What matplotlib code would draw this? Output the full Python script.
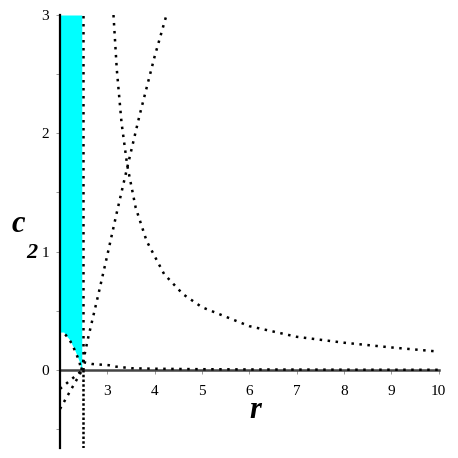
import matplotlib
matplotlib.use("Agg")
from matplotlib import pyplot as plt

# hyperbola-like curve, falling from top towards r = 10
r_fall = [3.13, 3.2, 3.3, 3.42, 3.6, 3.83, 4.2, 4.6, 5.0, 6.0, 7.0, 8.0, 9.0, 10.0]
c_fall = [3.0, 2.54, 2.09, 1.73, 1.37, 1.09, 0.81, 0.64, 0.53, 0.37, 0.28, 0.23, 0.19, 0.155]

# rising curve from near (2.45, 0) to the top
r_rise = [2.45, 2.6, 2.8, 3.0, 3.2, 3.42, 3.68, 4.0, 4.25]
c_rise = [0.0, 0.28, 0.62, 0.97, 1.33, 1.71, 2.15, 2.65, 3.0]

# small curve just above the r axis
r_small = [2.5, 2.68, 2.85, 3.03, 3.18, 3.52, 4.0, 5.0, 6.0, 8.0, 10.0]
c_small = [0.065, 0.05, 0.045, 0.04, 0.028, 0.014, 0.01, 0.006, 0.004, 0.002, 0.001]

# lower boundary of the shaded region
r_bound = [2.0, 2.08, 2.11, 2.195, 2.26, 2.32, 2.36, 2.41, 2.43, 2.46]
c_bound = [0.32, 0.32, 0.30, 0.26, 0.21, 0.16, 0.12, 0.07, 0.03, 0.0]

# two short lines below the axis
r_low1 = [2.0, 2.48]
c_low1 = [-0.16, 0.0]
r_low2 = [2.0, 2.47]
c_low2 = [-0.33, 0.0]

r_vert = 2.49

x_ticks = [3, 4, 5, 6, 7, 8, 9, 10]
y_ticks = [0, 1, 2, 3]
y_minor = [-0.5, 0.5, 1.5, 2.5]

serif = "Liberation Serif"

fig = plt.figure(figsize=(4.58, 4.58), dpi=100)
ax = fig.add_axes([60 / 458, 10 / 458, 378.6 / 458, 433 / 458])
ax.set_xlim(2, 10)
ax.set_ylim(-0.66, 3)

ax.fill_between(r_bound, c_bound, 3, color="#00FFFF", linewidth=0, zorder=1)

dot = dict(color="black", linewidth=1.8, linestyle=(0, (1, 2.2)), zorder=3)
ax.plot(r_fall, c_fall, **dot)
ax.plot(r_rise, c_rise, **dot)
ax.plot(r_small, c_small, **dot)
ax.plot(r_bound[2:], c_bound[2:], **dot)
ax.plot(r_low1, c_low1, **dot)
ax.plot(r_low2, c_low2, **dot)
ax.plot([r_vert, r_vert], [0, 3], **dot)
ax.plot([r_vert, r_vert], [-0.66, 0], color="black", linewidth=1.8,
        linestyle=(0, (1, 0.9)), zorder=3)

for s in ["top", "right"]:
    ax.spines[s].set_visible(False)
ax.spines["bottom"].set_position(("data", 0))
ax.spines["bottom"].set_color("#444444")
ax.spines["bottom"].set_linewidth(1.8)
ax.spines["bottom"].set_zorder(2)
ax.spines["left"].set_linewidth(1.6)

ax.set_xticks(x_ticks)
ax.set_xticklabels([str(t) for t in x_ticks], fontfamily=serif, fontsize=11)
ax.set_yticks(y_ticks)
ax.set_yticklabels([str(t) for t in y_ticks], fontfamily=serif, fontsize=11)
ax.set_yticks(y_minor, minor=True)
ax.tick_params(axis="x", length=3, width=0.6, color="#888888", pad=8)
ax.tick_params(axis="y", which="both", length=3, width=0.6, color="#888888", pad=5)

fig.text(12 / 458, 1 - 232 / 458, "c", fontfamily=serif, fontsize=22,
         fontweight="bold", fontstyle="italic", ha="left", va="baseline")
fig.text(26 / 458, 1 - 258 / 458, "2", fontfamily=serif, fontsize=16,
         fontweight="bold", fontstyle="italic", ha="left", va="baseline")
fig.text(255 / 458, 1 - 418 / 458, "r", fontfamily=serif, fontsize=22,
         fontweight="bold", fontstyle="italic", ha="center", va="baseline")

fig.savefig("out.png", dpi=100)
